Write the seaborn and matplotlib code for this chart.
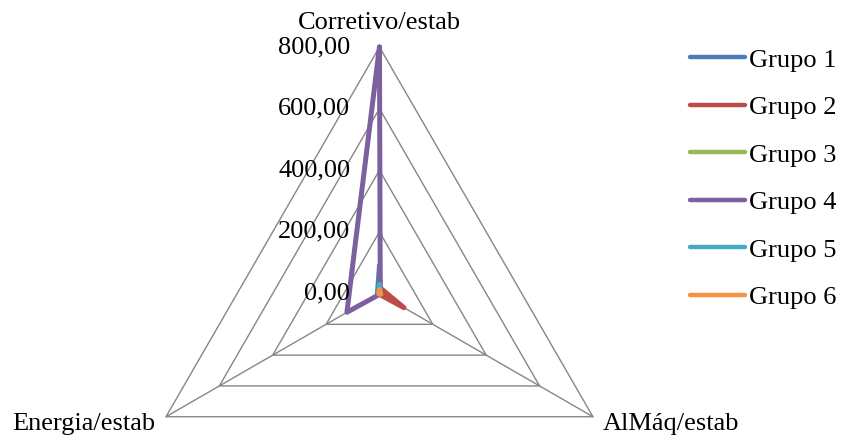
import numpy as np
import pandas as pd
import seaborn as sns
import matplotlib.pyplot as plt
from matplotlib.lines import Line2D

# chart data
eixos = ['Corretivo/estab', 'AlMáq/estab', 'Energia/estab']
grupos = ['Grupo 1', 'Grupo 2', 'Grupo 3', 'Grupo 4', 'Grupo 5', 'Grupo 6']
corretivo = [90, 20, 10, 800, 28, 12]
almaq = [3, 92, 5, 3, 3, 4]
energia = [8, 3, 5, 122, 3, 2]
ticks = [0, 200, 400, 600, 800]
tick_labels = ['0,00', '200,00', '400,00', '600,00', '800,00']
cores = ['#4A7EBB', '#BE4B48', '#98B954', '#7D60A0', '#46AAC5', '#F69240']

sns.set_style('white')
plt.rcParams['font.family'] = ['Liberation Serif', 'DejaVu Serif']
plt.rcParams['text.color'] = 'black'

angulos = np.linspace(0, 2 * np.pi, len(eixos), endpoint=False)
theta = list(angulos) + [2 * np.pi]

rows = []
for i, g in enumerate(grupos):
    vals = [corretivo[i], almaq[i], energia[i]]
    vals = vals + vals[:1]
    for t, v in zip(theta, vals):
        rows.append({'grupo': g, 'theta': t, 'valor': v})
df = pd.DataFrame(rows)

fig = plt.figure(figsize=(8.41, 4.38), dpi=100)
ax = fig.add_axes([0.1581, -0.2329, 0.5862, 1.1256], projection='polar')
ax.set_theta_zero_location('N')
ax.set_theta_direction(-1)
ax.set_ylim(0, 800)
ax.set_axis_off()

# triangular grid + spokes
grid_c = '#868686'
for r in ticks[1:]:
    ax.plot(theta, [r] * len(theta), color=grid_c, lw=1.0, clip_on=False, zorder=1)
for t in angulos:
    ax.plot([t, t], [0, 800], color=grid_c, lw=1.0, clip_on=False, zorder=1)

sns.lineplot(data=df, x='theta', y='valor', hue='grupo', palette=cores,
             sort=False, estimator=None, lw=3.6, ax=ax, legend=False, zorder=3)
for ln in ax.lines:
    ln.set_clip_on(False)
    ln.set_solid_capstyle('round')
    ln.set_solid_joinstyle('round')

fs = 19
for v, lab in zip(ticks, tick_labels):
    ax.annotate(lab, xy=(0, v), xytext=(-21, 0), textcoords='offset points',
                ha='right', va='center', fontsize=fs)

ax.annotate(eixos[0], xy=(0, 800), xytext=(0, 17), textcoords='offset points',
            ha='center', va='center', fontsize=fs)
ax.annotate(eixos[1], xy=(angulos[1], 800), xytext=(7, -5), textcoords='offset points',
            ha='left', va='center', fontsize=fs)
ax.annotate(eixos[2], xy=(angulos[2], 800), xytext=(-7.5, -5), textcoords='offset points',
            ha='right', va='center', fontsize=fs)

handles = [Line2D([0], [0], color=c, lw=3.2, solid_capstyle='round') for c in cores]
fig.legend(handles, grupos, loc='upper left', bbox_to_anchor=(690 / 841, 0.89),
           frameon=False, fontsize=fs, handlelength=2.1, handletextpad=0.12,
           labelspacing=0.91, borderpad=0, borderaxespad=0)

fig.savefig('out.png', dpi=100)
